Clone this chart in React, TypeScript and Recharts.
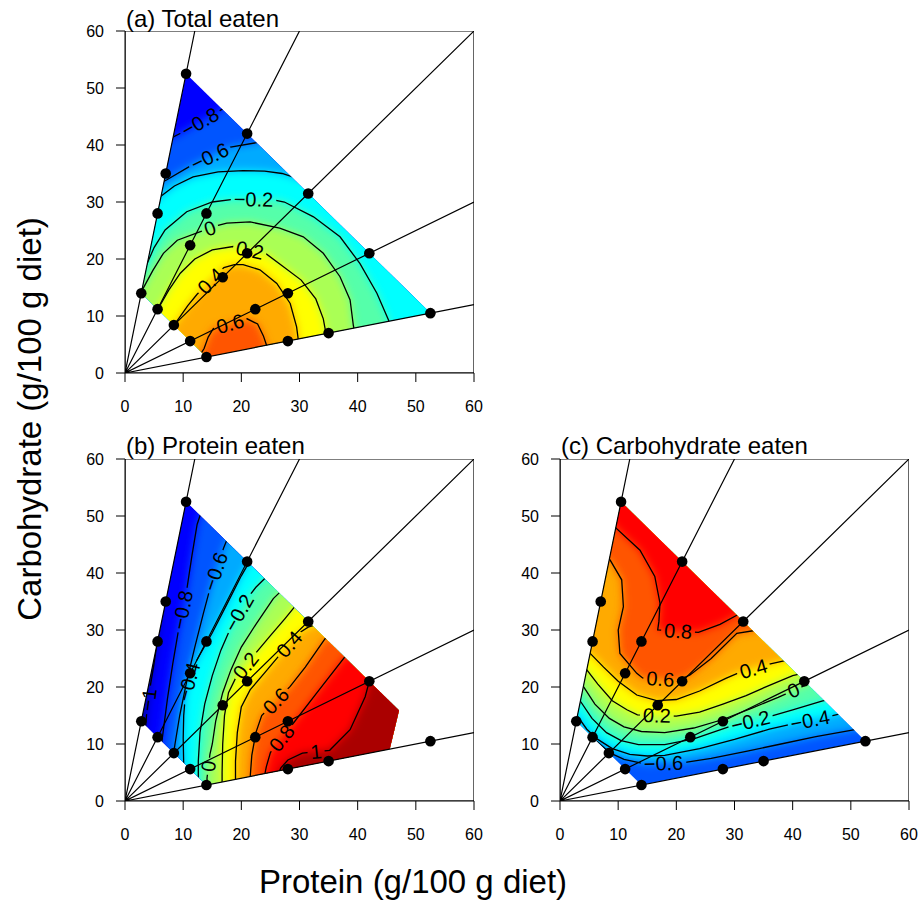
import React from 'react';
import { ScatterChart, Scatter, XAxis, YAxis } from 'recharts';

type Pt = [number, number];
type Contour = { level: number; pts: Pt[]; gap: number };
type Mode = 'below' | 'right' | 'above';

const axisTicks = [0, 10, 20, 30, 40, 50, 60];

// design diets: protein, carbohydrate (g/100 g diet)
const dietPoints: Pt[] = [
  [10.5, 52.5], [7, 35], [5.6, 28], [2.8, 14],
  [21, 42], [14, 28], [11.2, 22.4], [5.6, 11.2],
  [31.5, 31.5], [21, 21], [16.8, 16.8], [8.4, 8.4],
  [42, 21], [28, 14], [22.4, 11.2], [11.2, 5.6],
  [52.5, 10.5], [35, 7], [28, 5.6], [14, 2.8],
];
// nutritional rails (P:C ratios) drawn from the origin to the frame
const railEnds: Pt[] = [[12, 60], [30, 60], [60, 60], [60, 30], [60, 12]];

const hullFull: Pt[] = [[10.5, 52.5], [52.5, 10.5], [14, 2.8], [2.8, 14]];
const hullProtein: Pt[] = [[10.5, 52.5], [47.1, 15.9], [45.5, 9.1], [14, 2.8], [2.8, 14]];

// (a) total eaten — contour lines, ordered left to right; label sits between pts[gap-1] and pts[gap]
const contoursTotal: Contour[] = [
  { level: -0.8, pts: [[7.5, 41], [9.8, 42.2], [16.0, 45.8], [18, 47.2], [20, 48.5]], gap: 2 },
  { level: -0.6, pts: [[5.5, 33], [7.2, 33.9], [11.2, 36.3], [17.9, 39.6], [22.6, 40.4], [25, 41]], gap: 3 },
  { level: -0.4, pts: [[4.5, 29.5], [6, 30.9], [8.5, 32.8], [11.7, 34.4], [16, 35.3], [20.3, 35.5], [24, 35.4], [27, 35], [30, 34]], gap: 0 },
  { level: -0.2, pts: [[3.0, 17.5], [3.8, 19.2], [5, 22], [6.9, 25.1], [10.6, 28.3], [15, 30], [18.9, 30.5], [25.3, 30.4], [27.4, 30.0], [32.4, 27.4], [36.96, 23.9], [40.4, 19.2], [43.3, 14], [45.3, 9.3], [45.6, 8.0]], gap: 7 },
  { level: 0, pts: [[2.3, 13.5], [3.1, 14.8], [4.8, 18], [6.6, 21], [9, 23.3], [13.2, 24.9], [16.0, 25.9], [17.5, 26.3], [21.5, 26.5], [26.6, 25.4], [30.65, 23.9], [34.1, 21], [36.96, 16.9], [38.7, 12.8], [39.25, 8.4], [39.5, 7.0]], gap: 6 },
  { level: 0.2, pts: [[5.0, 10.8], [6.0, 11.8], [7.5, 14.5], [9.5, 17.5], [12, 20], [15, 21.6], [18.6, 22.2], [24.3, 20.9], [27, 18.8], [30.3, 16.3], [32.8, 13], [34.1, 9.5], [34.5, 7.2], [34.7, 6.0]], gap: 7 },
  { level: 0.4, pts: [[8.0, 7.8], [9.2, 9.5], [10.8, 11.8], [12.4, 13.8], [17.0, 18.5], [18.8, 19.0], [20.3, 19.0], [23.2, 18.1], [26.1, 15.7], [28.4, 12.2], [29.5, 8.1], [29.9, 5.0]], gap: 4 },
  { level: 0.6, pts: [[13.0, 3.3], [13.6, 4.3], [14.3, 6.3], [15.2, 7.8], [21.0, 9.5], [22.8, 8.6], [23.8, 6.5], [24.3, 5.0], [24.6, 4.0]], gap: 4 },
];

// (b) protein eaten — ordered top to bottom
const contoursProtein: Contour[] = [
  { level: -1, pts: [[6.3, 34], [5.6, 28.5], [4.9, 23.5], [4.4, 20.5], [3.7, 15], [3.5, 12.5], [3.0, 11]], gap: 4 },
  { level: -0.8, pts: [[13.2, 51], [12.4, 48.5], [11.5, 43], [10.6, 37], [9.2, 30], [8.2, 24], [7.3, 18], [6.6, 12.5], [6.3, 10]], gap: 4 },
  { level: -0.6, pts: [[17.8, 46.5], [17, 44.5], [16.3, 42.5], [14.8, 38], [13.5, 33], [12, 27], [10.6, 21], [9.4, 15], [8.6, 10], [8.3, 8]], gap: 3 },
  { level: -0.4, pts: [[21.7, 42.5], [20, 39.5], [17.5, 34.5], [15, 29.5], [12.5, 25], [11.5, 23], [10.4, 18.8], [10.1, 15], [10, 11], [10.1, 6.2]], gap: 6 },
  { level: -0.2, pts: [[24.5, 39.5], [22.5, 37.5], [21, 35.5], [18.2, 30.5], [16.5, 26.5], [15, 22], [13.7, 17], [12.9, 12], [12.6, 7], [12.6, 3.8]], gap: 3 },
  { level: 0, pts: [[27, 37], [25.5, 35.5], [22.5, 31], [20, 27], [18.2, 23], [16.8, 19], [15.6, 14], [15, 10], [14.6, 8.2], [14.1, 4], [14.2, 2.2]], gap: 9 },
  { level: 0.2, pts: [[29.5, 34.5], [27.5, 32], [25, 29], [22.5, 26], [19, 21.5], [17.8, 19], [17.1, 15], [16.8, 10], [16.7, 5], [16.7, 3]], gap: 4 },
  { level: 0.4, pts: [[33, 31], [31.5, 30.5], [30, 29.5], [26.5, 25.5], [24, 22.5], [21.5, 19.5], [20, 16.5], [19.3, 12], [19, 7], [19, 3.5]], gap: 3 },
  { level: 0.6, pts: [[35.5, 28.5], [34.4, 28.5], [31, 23.5], [28.4, 20.1], [23.5, 15], [22.5, 12], [21.8, 8], [21.5, 4]], gap: 4 },
  { level: 0.8, pts: [[38.5, 25.5], [37.8, 25.3], [33, 19], [28.9, 13.6], [25, 8.5], [24.3, 6], [24, 4.5]], gap: 4 },
  { level: 1, pts: [[42.8, 22], [42, 21], [41.3, 18.3], [38.7, 12.5], [35.2, 8.9], [30.5, 8.4], [28, 7.2], [26.8, 5.8], [26.3, 4.7]], gap: 5 },
];

// (c) carbohydrate eaten — ordered left to right
const contoursCarb: Contour[] = [
  { level: -0.6, pts: [[5.5, 10.6], [6.4, 10.4], [8.5, 8.5], [11, 7.3], [14.6, 6.5], [21, 6.7], [26, 7.5], [32, 8.7], [38, 10], [44, 11.3], [50, 12.4], [53, 13]], gap: 5 },
  { level: -0.4, pts: [[2.3, 15], [3.0, 14.9], [4.6, 12.6], [6.5, 10.8], [9, 9.2], [12, 8.2], [15, 7.9], [18, 8], [24, 9.2], [30, 10.8], [36, 12.6], [39.8, 13.5], [46.2, 14.8], [49, 15.5], [51, 16]], gap: 12 },
  { level: -0.2, pts: [[2.7, 17.7], [3.5, 17.5], [5.5, 14.5], [8, 12], [10.5, 10.6], [13.5, 9.9], [18, 9.9], [23, 10.9], [29.5, 13.2], [36, 14.8], [40, 16], [45, 17.5], [47, 18]], gap: 9 },
  { level: 0, pts: [[3.2, 20.3], [4.0, 20.1], [6, 17], [8.5, 14.5], [11, 13], [14, 12.2], [18, 12], [23, 12.8], [28, 14.3], [33, 16.3], [37.5, 18.2], [42.8, 20.6], [45, 21]], gap: 11 },
  { level: 0.2, pts: [[3.8, 23.2], [4.6, 23], [6.5, 20.5], [9, 17.6], [11.5, 16], [13.3, 15.1], [20.0, 14.9], [24, 15.6], [28, 17], [32, 18.5], [36, 20.3], [40, 22], [42, 22.5]], gap: 6 },
  { level: 0.4, pts: [[4.4, 26.5], [5.2, 25.9], [7.5, 23.5], [10, 21], [13.2, 18.6], [16.6, 17.6], [20, 17.8], [24, 19.3], [28.5, 21.5], [30.5, 22.4], [36, 24], [38.5, 24.6], [40, 25]], gap: 10 },
  { level: 0.6, pts: [[8, 42.5], [8.6, 42.3], [10.6, 38.8], [10.9, 34.1], [10.0, 30.0], [10.3, 25.9], [13.2, 22.4], [14.2, 21.6], [20.3, 21.2], [22.35, 22.1], [26, 25], [30.4, 29.4], [34, 30]], gap: 8 },
  { level: 0.8, pts: [[9, 49], [9.5, 48], [13.75, 44], [16.3, 39.4], [17.2, 34.7], [17.0, 31.5], [16.8, 30.0], [23.8, 29.6], [27.5, 31], [30.4, 32.6], [32, 33.5]], gap: 7 },
];

const FONT = '"Liberation Sans", Arial, Helvetica, sans-serif';
const LABEL_SIZE = 20;

function jet(t: number): string {
  const cl = (v: number) => Math.max(0, Math.min(1, v));
  const r = cl(1.5 - Math.abs(4 * t - 3));
  const g = cl(1.5 - Math.abs(4 * t - 2));
  const b = cl(1.5 - Math.abs(4 * t - 1));
  return `rgb(${Math.round(r * 255)},${Math.round(g * 255)},${Math.round(b * 255)})`;
}
const levelColor = (v: number) => jet((v + 1.2) / 2.4);

const toRows = (pts: Pt[]) => pts.map(([p, c]) => ({ p, c }));

function regionOf(pts: Pt[], mode: Mode): Pt[] {
  const [sp, sc] = pts[0];
  const [ep, ec] = pts[pts.length - 1];
  const F = 90, N = -40;
  if (mode === 'below') return [...pts, [F, ec], [F, N], [N, N], [N, sc]];
  if (mode === 'right') return [...pts, [ep, N], [F, N], [F, F], [sp, F]];
  return [...pts, [F, ec], [F, F], [N, F], [N, sc]];
}

type XY = { x: number; y: number };
const pathOf = (points: XY[], close = false) =>
  points.map((q, i) => `${i === 0 ? 'M' : 'L'}${q.x.toFixed(1)},${q.y.toFixed(1)}`).join(' ') + (close ? ' Z' : '');

const fmt = (v: number) => (v < 0 ? '\u2212' : '') + String(Math.abs(v));
const textWidth = (s: string, fs: number) =>
  s.split('').reduce((w, ch) => w + (ch === '.' ? 0.278 : ch === '\u2212' ? 0.584 : 0.556), 0) * fs;

const NoDot = () => <g />;
const Dot = (props: any) => <circle cx={props.cx} cy={props.cy} r={5.3} fill="#000" />;

const railRows: Pt[] = railEnds.flatMap((e, i) => (i === 0 ? [e] : [[0, 0] as Pt, e]));
const frame: Pt[] = [[0, 0], [60, 0], [60, 60], [0, 60], [0, 0]];
const bigRect: Pt[] = [[-40, -40], [90, -40], [90, 90], [-40, 90]];

function renderContour(points: XY[], ct: Contour, clip: string, maskId: string) {
  const g = ct.gap;
  if (g <= 0) {
    return <path d={pathOf(points)} fill="none" stroke="#000" strokeWidth={1.3} clipPath={clip} />;
  }
  const a = points[g - 1];
  const b = points[g];
  const mx = (a.x + b.x) / 2;
  const my = (a.y + b.y) / 2;
  let ang = (Math.atan2(b.y - a.y, b.x - a.x) * 180) / Math.PI;
  if (ang > 90) ang -= 180;
  if (ang < -90) ang += 180;
  const txt = fmt(ct.level);
  const w = textWidth(txt, LABEL_SIZE) + 6;
  const h = LABEL_SIZE * 0.9;
  const rot = `rotate(${ang.toFixed(1)} ${mx.toFixed(1)} ${my.toFixed(1)})`;
  return (
    <g>
      <mask id={maskId} maskUnits="userSpaceOnUse" x={-2000} y={-2000} width={5000} height={5000}>
        <rect x={-2000} y={-2000} width={5000} height={5000} fill="#fff" />
        <rect x={mx - w / 2} y={my - h / 2} width={w} height={h} fill="#000" transform={rot} />
      </mask>
      <g clipPath={clip}>
        <path d={pathOf(points)} fill="none" stroke="#000" strokeWidth={1.3} mask={`url(#${maskId})`} />
      </g>
      <text x={mx} y={my} transform={rot} textAnchor="middle" dominantBaseline="central"
        fontSize={LABEL_SIZE} fontFamily={FONT} fill="#000">
        {txt}
      </text>
    </g>
  );
}

function Panel({ pid, x0, y0, hull, contours, mode }: {
  pid: string; x0: number; y0: number; hull: Pt[]; contours: Contour[]; mode: Mode;
}) {
  const minL = Math.min(...contours.map((c) => c.level));
  const clip = `url(#hull-${pid})`;
  const soft = `url(#soft-${pid})`;
  const sorted = [...contours].sort((a, b) => a.level - b.level);
  const tickStyle = { fill: '#000', fontSize: 16, fontFamily: FONT };
  return (
    <div style={{ position: 'absolute', left: x0 - 60, top: y0 - 10 }}>
      <ScatterChart width={429} height={402} margin={{ top: 10, right: 20, bottom: 0, left: 0 }}>
        <XAxis type="number" dataKey="p" domain={[0, 60]} ticks={axisTicks} interval={0} allowDataOverflow
          height={50} tickSize={9} tickMargin={19} tick={tickStyle}
          axisLine={{ stroke: '#000' }} tickLine={{ stroke: '#000' }} />
        <YAxis type="number" dataKey="c" domain={[0, 60]} ticks={axisTicks} interval={0} allowDataOverflow
          width={60} tickSize={9} tickMargin={12} tick={tickStyle}
          axisLine={{ stroke: '#000' }} tickLine={{ stroke: '#000' }} />
        <Scatter data={toRows(hull)} shape={NoDot} isAnimationActive={false}
          line={(lp: any) => (
            <defs>
              <clipPath id={`hull-${pid}`}><path d={pathOf(lp.points, true)} /></clipPath>
              <filter id={`soft-${pid}`} x="-20%" y="-20%" width="140%" height="140%">
                <feGaussianBlur stdDeviation="4.5" />
              </filter>
            </defs>
          )} />
        <Scatter data={toRows(bigRect)} shape={NoDot} isAnimationActive={false}
          line={(lp: any) => <path d={pathOf(lp.points, true)} fill={levelColor(minL - 0.1)} stroke="none" clipPath={clip} />} />
        {sorted.map((ct) => (
          <Scatter key={`band${ct.level}`} data={toRows(regionOf(ct.pts, mode))} shape={NoDot} isAnimationActive={false}
            line={(lp: any) => (
              <path d={pathOf(lp.points, true)} fill={levelColor(ct.level + 0.1)} stroke="none" clipPath={clip} filter={soft} />
            )} />
        ))}
        {contours.map((ct, i) => (
          <Scatter key={`ct${ct.level}`} data={toRows(ct.pts)} shape={NoDot} isAnimationActive={false}
            line={(lp: any) => renderContour(lp.points, ct, clip, `lbl-${pid}-${i}`)} />
        ))}
        <Scatter data={toRows(railRows)} shape={NoDot} isAnimationActive={false}
          line={(lp: any) => <path d={pathOf(lp.points)} fill="none" stroke="#000" strokeWidth={1.2} />} />
        <Scatter data={toRows(frame)} shape={NoDot} isAnimationActive={false}
          line={(lp: any) => <path d={pathOf(lp.points)} fill="none" stroke="#000" strokeWidth={1.2} />} />
        <Scatter data={toRows(dietPoints)} shape={Dot} isAnimationActive={false} />
      </ScatterChart>
    </div>
  );
}

export default function App() {
  return (
    <div style={{ position: 'absolute', left: 0, top: 0, width: 920, height: 909, overflow: 'hidden', background: '#fff', fontFamily: FONT }}>
      <Panel pid="a" x0={125} y0={31} hull={hullFull} contours={contoursTotal} mode="below" />
      <Panel pid="b" x0={125} y0={459} hull={hullProtein} contours={contoursProtein} mode="right" />
      <Panel pid="c" x0={560} y0={459} hull={hullFull} contours={contoursCarb} mode="above" />
      <svg width={920} height={909} style={{ position: 'absolute', left: 0, top: 0, pointerEvents: 'none' }}>
        <text x={126} y={27} fontSize={24} fontFamily={FONT} fill="#000">(a) Total eaten</text>
        <text x={126} y={454} fontSize={24} fontFamily={FONT} fill="#000">(b) Protein eaten</text>
        <text x={561} y={454} fontSize={24} fontFamily={FONT} fill="#000">(c) Carbohydrate eaten</text>
        <text x={413} y={893} fontSize={33} fontFamily={FONT} fill="#000" textAnchor="middle">Protein (g/100 g diet)</text>
        <text x={0} y={0} transform="translate(41 419) rotate(-90)" fontSize={33} fontFamily={FONT} fill="#000" textAnchor="middle">Carbohydrate (g/100 g diet)</text>
      </svg>
    </div>
  );
}
